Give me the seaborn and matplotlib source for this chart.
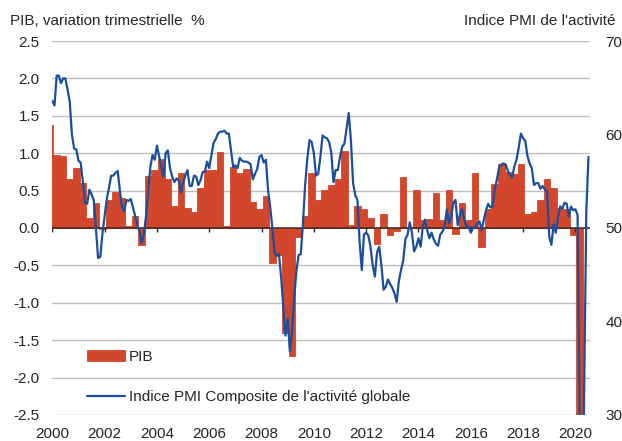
import matplotlib

matplotlib.use("Agg")
import matplotlib.pyplot as plt
import numpy as np
import seaborn as sns

# PIB, variation trimestrielle (%) : T4 1999 puis T1 2000 ... T1 2020
gdp_start = 1999.75
gdp = [1.38,
       0.98, 0.96, 0.65, 0.80,
       0.60, 0.13, 0.33, -0.02,
       0.37, 0.48, 0.40, 0.03,
       0.16, -0.23, 0.69, 0.78,
       0.92, 0.66, 0.30, 0.74,
       0.27, 0.21, 0.53, 0.78,
       0.77, 1.01, 0.03, 0.82,
       0.73, 0.79, 0.35, 0.25,
       0.43, -0.47, -0.36, -1.40,
       -1.71, -0.12, 0.16, 0.74,
       0.38, 0.51, 0.58, 0.66,
       1.03, 0.04, 0.29, 0.25,
       0.13, -0.21, 0.19, -0.09,
       -0.04, 0.68, 0.02, 0.51,
       0.11, 0.12, 0.47, 0.11,
       0.51, -0.08, 0.33, 0.11,
       0.73, -0.25, 0.25, 0.59,
       0.85, 0.75, 0.72, 0.85,
       0.19, 0.22, 0.38, 0.65,
       0.53, 0.27, 0.26, -0.09,
       -5.30]

# Indice PMI composite, mensuel, janv. 2000 -> juil. 2020
pmi_2000 = [63.6, 63.1, 66.3, 66.3, 65.5, 66.0, 66.0, 64.8, 63.5, 60.0, 58.5, 58.4]
pmi_2001 = [57.2, 57.0, 55.0, 52.7, 52.6, 54.1, 53.6, 53.0, 50.0, 46.8, 46.9, 49.4]
pmi_2002 = [51.3, 53.1, 54.3, 55.6, 55.6, 55.9, 56.1, 54.0, 52.2, 51.8, 53.0, 52.9]
pmi_2003 = [53.1, 52.2, 51.3, 50.4, 49.6, 48.4, 49.3, 51.3, 54.0, 56.6, 57.8, 57.3]
pmi_2004 = [58.8, 57.7, 56.5, 55.5, 58.0, 58.3, 56.4, 55.5, 54.9, 55.3, 55.1, 53.8]
pmi_2005 = [54.8, 55.6, 56.2, 54.5, 54.5, 55.6, 55.5, 54.6, 55.1, 56.0, 56.0, 57.1]
pmi_2006 = [56.4, 57.8, 59.1, 59.5, 60.1, 60.3, 60.3, 60.4, 60.1, 60.1, 58.3, 56.5]
pmi_2007 = [56.7, 56.4, 57.5, 57.2, 57.1, 57.1, 57.0, 56.8, 55.2, 55.8, 56.3, 57.6]
pmi_2008 = [57.8, 57.0, 57.3, 54.0, 52.2, 49.9, 47.4, 47.0, 47.2, 44.7, 41.5, 38.5]
pmi_2009 = [40.3, 36.8, 39.1, 42.6, 45.4, 47.1, 47.2, 50.5, 54.6, 57.4, 59.4, 59.2]
pmi_2010 = [58.0, 55.6, 55.8, 57.6, 59.9, 59.7, 59.6, 59.2, 58.1, 54.9, 56.2, 56.2]
pmi_2011 = [57.6, 58.7, 59.0, 60.6, 62.3, 59.4, 54.8, 53.5, 53.0, 48.5, 45.5, 49.3]
pmi_2012 = [49.5, 49.2, 48.0, 46.0, 44.8, 47.4, 48.0, 46.0, 43.4, 43.7, 44.5, 44.0]
pmi_2013 = [43.6, 43.0, 42.1, 44.3, 45.5, 46.5, 48.8, 49.3, 50.6, 49.5, 47.5, 48.0]
pmi_2014 = [48.9, 48.0, 50.2, 50.9, 49.8, 48.9, 49.5, 48.8, 48.3, 48.1, 49.3, 49.6]
pmi_2015 = [50.2, 52.0, 50.5, 51.2, 52.7, 53.0, 50.3, 51.4, 52.0, 50.9, 50.1, 50.2]
pmi_2016 = [49.5, 50.0, 50.2, 50.5, 50.7, 49.8, 50.9, 51.9, 52.6, 52.2, 52.3, 54.1]
pmi_2017 = [55.2, 56.5, 56.8, 56.9, 56.8, 56.1, 55.7, 55.4, 56.6, 57.3, 58.6, 60.1]
pmi_2018 = [59.6, 59.3, 57.7, 56.9, 56.4, 54.6, 54.8, 54.8, 54.2, 54.5, 54.1, 53.9]
pmi_2019 = [49.1, 48.2, 50.4, 49.5, 51.1, 52.3, 52.1, 52.7, 52.6, 51.2, 52.3, 51.9]
pmi_2020 = [52.0, 51.4, 28.9, 11.1, 32.1, 51.7, 57.6]

year_ticks = list(range(2000, 2021, 2))
left_ticks = [-2.5, -2.0, -1.5, -1.0, -0.5, 0.0, 0.5, 1.0, 1.5, 2.0, 2.5]
right_ticks = [30, 40, 50, 60, 70]

BAR = "#D2472B"
LINE = "#1B4F9C"
GRID = "#BFBFBF"
TXT = "#262626"

sns.set_style("white")
plt.rcParams["font.family"] = ["Liberation Sans", "DejaVu Sans"]
plt.rcParams["axes.unicode_minus"] = False

pmi = np.array(pmi_2000 + pmi_2001 + pmi_2002 + pmi_2003 + pmi_2004 + pmi_2005
               + pmi_2006 + pmi_2007 + pmi_2008 + pmi_2009 + pmi_2010 + pmi_2011
               + pmi_2012 + pmi_2013 + pmi_2014 + pmi_2015 + pmi_2016 + pmi_2017
               + pmi_2018 + pmi_2019 + pmi_2020)
pmi_x = 2000 + np.arange(len(pmi)) / 12
# each quarter drawn as a full-width column, shifted half a month
qw = 0.25
bar_x = gdp_start + np.arange(len(gdp)) * qw + 1 / 24 + qw / 2

fig = plt.figure(figsize=(6.22, 4.41), dpi=100)
ax = fig.add_axes([0.0841, 0.059, 0.8645, 0.848])
ax2 = ax.twinx()

sns.barplot(x=bar_x, y=gdp, native_scale=True, width=1.0, gap=0, color=BAR,
            saturation=1, errorbar=None, label="PIB", ax=ax)
# columns touch each other (no gap between quarters)
for p in ax.patches:
    w = p.get_width()
    if abs(w - qw) > 1e-9:
        p.set_x(p.get_x() + w / 2 - qw / 2)
        p.set_width(qw)
    p.set_edgecolor(BAR)
    p.set_linewidth(0.6)
if ax.get_legend() is not None:
    ax.get_legend().remove()

sns.lineplot(x=pmi_x, y=pmi, ax=ax2, color=LINE, lw=1.6,
             label="Indice PMI Composite de l'activité globale")

ax.set_xlim(2000, 2020.56)
ax.set_ylim(-2.5, 2.5)
ax2.set_ylim(30, 70)
ax.set_yticks(left_ticks)
ax.set_yticklabels([f"{t:.1f}" for t in left_ticks])
ax2.set_yticks(right_ticks)
ax.set_xticks(year_ticks)
ax.set_xticklabels([str(y) for y in year_ticks])
ax.set_xlabel("")
ax.set_ylabel("")
ax2.set_ylabel("")

ax.grid(axis="y", color=GRID, lw=1)
ax.set_axisbelow(True)
ax2.grid(False)
for a in (ax, ax2):
    for s in a.spines.values():
        s.set_visible(False)

ax.tick_params(axis="x", length=0, pad=9, labelsize=11, labelcolor=TXT)
ax.tick_params(axis="y", length=0, pad=9, labelsize=11, labelcolor=TXT)
ax2.tick_params(axis="y", length=0, pad=11, labelsize=11, labelcolor=TXT)

# axe des abscisses sur la ligne zéro, avec petites graduations
ax.axhline(0, color="#3a2a24", lw=1.1, zorder=3)
ax.vlines(year_ticks, -0.06, 0, color="#3a2a24", lw=1, zorder=3)

h1, l1 = ax.get_legend_handles_labels()
h2, l2 = ax2.get_legend_handles_labels()
ax2.legend(h1 + h2, l1 + l2, loc="upper left", bbox_to_anchor=(0.064, 0.175),
           frameon=False, fontsize=11, handlelength=2.5, handleheight=0.7,
           handletextpad=0.25, labelspacing=1.75, borderaxespad=0, borderpad=0,
           labelcolor=TXT)

fig.text(10 / 622, 1 - 21 / 441, "PIB, variation trimestrielle  %", ha="left",
         va="center", fontsize=11, color=TXT)
fig.text(616 / 622, 1 - 21 / 441, "Indice PMI de l'activité", ha="right",
         va="center", fontsize=11, color=TXT)

fig.savefig("out.png", dpi=100)
